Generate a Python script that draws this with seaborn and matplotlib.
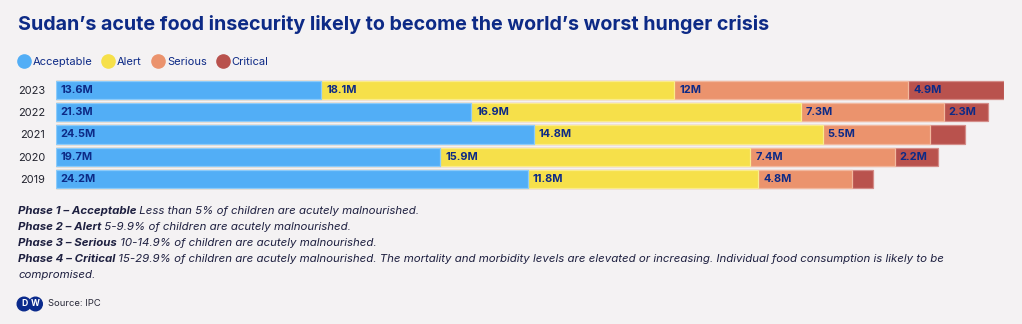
import matplotlib
matplotlib.use("Agg")
import matplotlib.pyplot as plt
import seaborn as sns
import pandas as pd
import numpy as np
from matplotlib.lines import Line2D
from matplotlib.patches import Circle

years = ["2023", "2022", "2021", "2020", "2019"]
categories = ["Acceptable", "Alert", "Serious", "Critical"]
acceptable = [13.6, 21.3, 24.5, 19.7, 24.2]
alert = [18.1, 16.9, 14.8, 15.9, 11.8]
serious = [12.0, 7.3, 5.5, 7.4, 4.8]
critical = [4.9, 2.3, 1.8, 2.2, 1.1]
label_critical = [True, True, False, True, False]

colors = ["#52AEF6", "#F6E04A", "#EB936D", "#B9524D"]
edges = ["#8CCBFA", "#FAEC8C", "#F2B89E", "#D48C88"]
BG = "#F4F2F3"
NAVY = "#0D2A86"
TXT = "#1E2040"

sns.set_theme(style="white")
plt.rcParams["font.family"] = ["Inter", "DejaVu Sans"]

series = [acceptable, alert, serious, critical]
df = pd.DataFrame({"year": years})
for c, s in zip(categories, series):
    df[c] = s
cum = df[categories].cumsum(axis=1)
starts = cum.shift(1, axis=1).fillna(0)

fig = plt.figure(figsize=(10.22, 3.24), dpi=100, facecolor=BG)
ax = fig.add_axes([56 / 1022, 1 - 190.1 / 324, (1004 - 56) / 1022, 89 / 324 + 22.25 / 324])
ax.set_facecolor(BG)

for i in range(len(categories) - 1, -1, -1):
    c = categories[i]
    sns.barplot(data=cum.assign(year=years), x=c, y="year", order=years, orient="h",
                color=colors[i], edgecolor=edges[i], linewidth=0.9, width=0.82,
                saturation=1, ax=ax)

ax.set_xlim(0, cum[categories[-1]].max())
ax.set_ylim(len(years) - 0.5, -0.5)
ax.set_xlabel("")
ax.set_ylabel("")
ax.set_xticks([])
for sp in ax.spines.values():
    sp.set_visible(False)
ax.tick_params(axis="y", length=0, pad=8, labelsize=7.9, labelcolor="#22232E")

for ri, yr in enumerate(years):
    for ci, c in enumerate(categories):
        val = df.loc[ri, c]
        if c == "Critical" and not label_critical[ri]:
            continue
        txt = f"{val:g}M"
        ax.annotate(txt, (starts.loc[ri, c], ri), xytext=(3.5, 0), textcoords="offset points",
                    ha="left", va="center", fontsize=7.9, fontweight="bold", color=NAVY)

fig.text(18 / 1022, 1 - 25 / 324, "Sudan\u2019s acute food insecurity likely to become the world\u2019s worst hunger crisis",
         fontsize=14.2, fontweight="bold", color=NAVY, ha="left", va="center")

handles = [Line2D([], [], marker="o", linestyle="", markersize=9.5, markerfacecolor=col,
                  markeredgecolor=col) for col in colors]
leg = fig.legend(handles, categories, loc="center left", bbox_to_anchor=(13 / 1022, 1 - 62 / 324),
                 ncol=4, frameon=False, fontsize=8, handletextpad=0.25, columnspacing=0.9,
                 handlelength=1.1, borderaxespad=0)
for t in leg.get_texts():
    t.set_color(NAVY)

notes = [
    ("Phase 1 \u2013 Acceptable", " Less than 5% of children are acutely malnourished."),
    ("Phase 2 \u2013 Alert", " 5-9.9% of children are acutely malnourished."),
    ("Phase 3 \u2013 Serious", " 10-14.9% of children are acutely malnourished."),
    ("Phase 4 \u2013 Critical", " 15-29.9% of children are acutely malnourished. The mortality and morbidity levels are elevated or increasing. Individual food consumption is likely to be"),
    ("", "compromised."),
]
renderer = fig.canvas.get_renderer()
y0 = 210.5
for k, (b, r) in enumerate(notes):
    yy = 1 - (y0 + 16.2 * k) / 324
    x = 18 / 1022
    if b:
        tb = fig.text(x, yy, b, fontsize=8.25, fontstyle="italic", fontweight="bold",
                      color=TXT, ha="left", va="center")
        bb = tb.get_window_extent(renderer)
        x = bb.x1 / fig.bbox.width
    fig.text(x, yy, r, fontsize=8.25, fontstyle="italic", color=TXT, ha="left", va="center")

# DW logo
lax = fig.add_axes([16 / 1022, 1 - 312 / 324, 28 / 1022, 16 / 324])
lax.set_xlim(0, 28)
lax.set_ylim(0, 16)
lax.set_aspect("equal")
lax.axis("off")
for cx, letter in [(8, "D"), (19.5, "W")]:
    lax.add_patch(Circle((cx, 8), 6.8, color="#0A2A8C"))
    lax.text(cx, 8, letter, color="white", fontsize=6.2, fontweight="bold", ha="center", va="center")
fig.text(48 / 1022, 1 - 304 / 324, "Source: IPC", fontsize=6.8, color="#2A2B3A", ha="left", va="center")

fig.savefig("out.png", dpi=100, facecolor=BG)
